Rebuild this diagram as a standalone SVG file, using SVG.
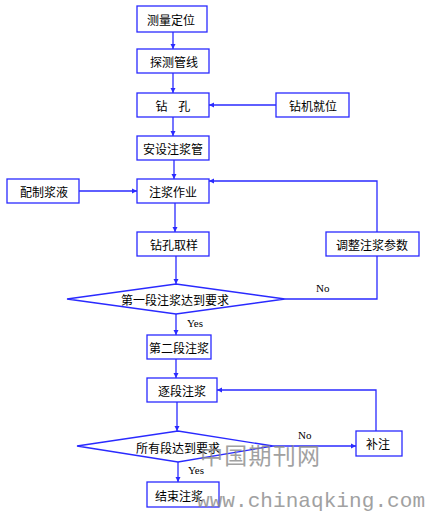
<svg xmlns="http://www.w3.org/2000/svg" width="426" height="512" viewBox="0 0 426 512">
<defs>
<marker id="ah" markerWidth="6" markerHeight="6" refX="5" refY="3" orient="auto" markerUnits="userSpaceOnUse">
<path d="M0,0.5 L5,3 L0,5.5 z" fill="#2a2aff"/>
</marker>
<style>
.box{fill:#fff;stroke:#2a2aff;stroke-width:1.3}
.lbl{font-family:"Noto Sans CJK SC","Liberation Sans",sans-serif;font-size:12px;fill:#000;text-anchor:middle;dominant-baseline:central}
.yn{font-family:"Liberation Serif",serif;font-size:11px;fill:#000}
.ln{fill:none;stroke:#2a2aff;stroke-width:1.3}
.wm{fill:#8a8a8a;opacity:0.8}
</style>
</defs>
<rect width="426" height="512" fill="#fff"/>
<g id="connectors">
<path class="ln" d="M173,32 V49" marker-end="url(#ah)"/>
<path class="ln" d="M173,73 V93" marker-end="url(#ah)"/>
<path class="ln" d="M276,105 H209" marker-end="url(#ah)"/>
<path class="ln" d="M173,117 V136" marker-end="url(#ah)"/>
<path class="ln" d="M174,160 V179" marker-end="url(#ah)"/>
<path class="ln" d="M79,191 H137" marker-end="url(#ah)"/>
<path class="ln" d="M175,203 V232" marker-end="url(#ah)"/>
<path class="ln" d="M176,256 V284" marker-end="url(#ah)"/>
<path class="ln" d="M285,299 H377 V256"/>
<path class="ln" d="M377,232 V181 H209" marker-end="url(#ah)"/>
<path class="ln" d="M176,314 V335" marker-end="url(#ah)"/>
<path class="ln" d="M176,359 V378" marker-end="url(#ah)"/>
<path class="ln" d="M177,402 V431" marker-end="url(#ah)"/>
<path class="ln" d="M273,446 H356" marker-end="url(#ah)"/>
<path class="ln" d="M376,431 V390 H217" marker-end="url(#ah)"/>
<path class="ln" d="M178,462 V482" marker-end="url(#ah)"/>
<text class="yn" x="316" y="292">No</text>
<text class="yn" x="187" y="327">Yes</text>
<text class="yn" x="298" y="439">No</text>
<text class="yn" x="188" y="474">Yes</text>
</g>
<g id="n1"><rect class="box" x="137" y="6" width="70" height="26"/><text class="lbl" x="171" y="19">测量定位</text></g>
<g id="n2"><rect class="box" x="137" y="49" width="72" height="24"/><text class="lbl" x="174" y="61">探测管线</text></g>
<g id="n3"><rect class="box" x="137" y="93" width="72" height="24"/><text class="lbl" x="173" y="105" xml:space="preserve">钻    孔</text></g>
<g id="n4"><rect class="box" x="276" y="93" width="73" height="24"/><text class="lbl" x="313" y="105">钻机就位</text></g>
<g id="n5"><rect class="box" x="137" y="136" width="72" height="24"/><text class="lbl" x="173" y="148">安设注浆管</text></g>
<g id="n6"><rect class="box" x="7" y="179" width="72" height="24"/><text class="lbl" x="44" y="191">配制浆液</text></g>
<g id="n7"><rect class="box" x="137" y="179" width="72" height="24"/><text class="lbl" x="173" y="191">注浆作业</text></g>
<g id="n8"><rect class="box" x="137" y="232" width="72" height="24"/><text class="lbl" x="174" y="244">钻孔取样</text></g>
<g id="n9"><rect class="box" x="326" y="232" width="93" height="24"/><text class="lbl" x="372" y="244">调整注浆参数</text></g>
<g id="n10"><polygon class="box" points="67,299 176,284 285,299 176,314"/><text class="lbl" x="175" y="299">第一段注浆达到要求</text></g>
<g id="n11"><rect class="box" x="147" y="335" width="64" height="24"/><text class="lbl" x="179" y="347">第二段注浆</text></g>
<g id="n12"><rect class="box" x="147" y="378" width="70" height="24"/><text class="lbl" x="182" y="390">逐段注浆</text></g>
<g id="n13"><polygon class="box" points="77,446 178,431 273,446 178,462"/><text class="lbl" x="178" y="447">所有段达到要求</text></g>
<g id="n14"><rect class="box" x="356" y="431" width="46" height="25"/><text class="lbl" x="378" y="443">补注</text></g>
<g id="n15"><rect class="box" x="147" y="482" width="72" height="25"/><text class="lbl" x="179" y="495">结束注浆</text></g>
<text class="wm" x="200" y="464" font-family="Noto Sans CJK SC, serif" font-size="23" textLength="120">中国期刊网</text>
<text class="wm" x="197" y="507" font-family="Liberation Mono, monospace" font-size="21" textLength="228">www.chinaqking.com</text>
</svg>
